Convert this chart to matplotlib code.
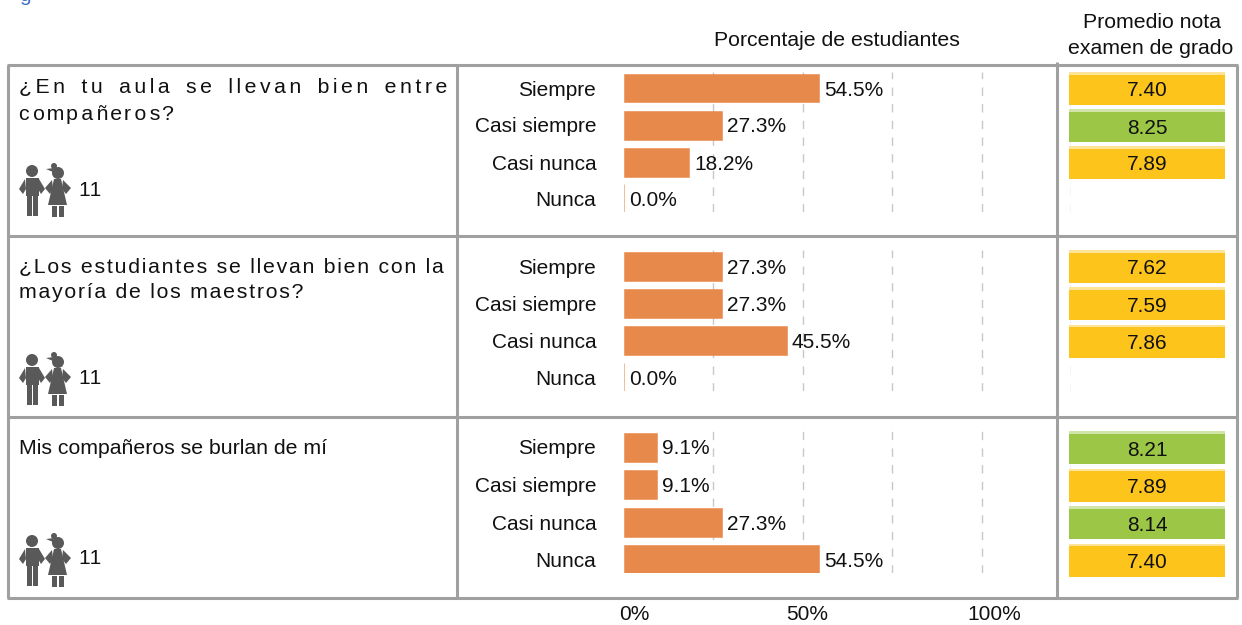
import matplotlib
matplotlib.use("Agg")
import matplotlib.pyplot as plt
from matplotlib.patches import Circle, Polygon, Rectangle

W, H = 1242, 625
FONT = "Liberation Sans"
ORANGE = "#E8894C"
YELLOW = "#FDC41C"
GREEN = "#9BC646"
FRAME = "#A0A0A0"
ICON = "#595959"

answers = ["Siempre", "Casi siempre", "Casi nunca", "Nunca"]
questions = [
    ["¿En tu aula se llevan bien entre", "compañeros?"],
    ["¿Los estudiantes se llevan bien con la", "mayoría de los maestros?"],
    ["Mis compañeros se burlan de mí"],
]
students = [11, 11, 11]
percent_1 = [54.5, 27.3, 18.2, 0.0]
percent_2 = [27.3, 27.3, 45.5, 0.0]
percent_3 = [9.1, 9.1, 27.3, 54.5]
grades_1 = [7.40, 8.25, 7.89, None]
grades_2 = [7.62, 7.59, 7.86, None]
grades_3 = [8.21, 7.89, 8.14, 7.40]
x_ticks = [0, 50, 100]
x_tick_shift = [10, 5, 13]

panel_tops = [88, 266, 447]
row_step = [37.0, 37.3, 37.6]
# hair spaces per letter gap and per word gap, one pair per text line
spacing = [[(2, 2), (1.5, 0)], [(1, 0), (1, 0)], [(0, 0)]]


def spaced(s, n, gap):
    # matplotlib has no letter spacing, so pad with hair spaces
    out = ""
    for i, c in enumerate(s):
        out += c
        if i < len(s) - 1:
            out += "\u200a" * (round((i + 1) * n) - round(i * n))
        if c == " ":
            out += "\u200a" * gap
    return out


def draw_icon(ax, y0):
    # pixel coords, y0 = top of the figures
    parts = [
        Circle((32, y0 + 6), 6),
        Rectangle((25.5, y0 + 13), 13, 18),
        Polygon([(25, y0 + 14), (19, y0 + 24), (23, y0 + 29), (26, y0 + 24)]),
        Polygon([(39, y0 + 14), (45, y0 + 24), (41, y0 + 29), (38, y0 + 24)]),
        Rectangle((26.5, y0 + 31), 5, 20),
        Rectangle((33, y0 + 31), 5, 20),
        Circle((58, y0 + 8), 6),
        Circle((54, y0 + 1), 3),
        Polygon([(46, y0 + 4), (54, y0 + 3), (53, y0 + 7)]),
        Polygon([(54, y0 + 14), (61, y0 + 14), (67, y0 + 40), (48, y0 + 40)]),
        Polygon([(52, y0 + 15), (45, y0 + 23), (50, y0 + 29), (53, y0 + 24)]),
        Polygon([(63, y0 + 15), (71, y0 + 23), (66, y0 + 29), (62, y0 + 24)]),
        Rectangle((52, y0 + 41), 5, 11),
        Rectangle((58.5, y0 + 41), 5, 11),
    ]
    for p in parts:
        p.set_color(ICON)
        p.set_linewidth(0)
        ax.add_patch(p)


def add_panel(fig, center0, step, values):
    # bar axes span 624..1071 px, so 100% lands on 981 px
    top = center0 - 16
    bottom = center0 + 3 * step + 13
    ax = fig.add_axes([624 / W, 1 - bottom / H, (1071 - 624) / W, (bottom - top) / H])
    ax.set_xlim(0, 125)
    ax.set_ylim(3 + 13 / step, -16 / step)
    ax.barh(range(4), values, height=29 / step, color=ORANGE, edgecolor=ORANGE, linewidth=0.4, zorder=2)
    for i, v in enumerate(values):
        ax.annotate("%.1f%%" % v, (v, i), xytext=(5, -2), textcoords="offset pixels",
                    va="center", ha="left", fontsize=15, color="#111111", zorder=3)
    ax.set_xticks([25, 50, 75, 100, 125])
    ax.set_xticklabels([])
    ax.set_yticks(range(4))
    ax.set_yticklabels(answers, fontsize=15, color="#111111")
    ax.tick_params(length=0, axis="both")
    ax.tick_params(axis="y", pad=20)
    ax.grid(axis="x", color="#C8C8C8", linewidth=1, dashes=(6, 6), zorder=0)
    ax.set_axisbelow(True)
    ax.patch.set_alpha(0)
    for s in ax.spines.values():
        s.set_visible(False)
    return ax


plt.rcParams["font.family"] = [FONT, "DejaVu Sans"]
plt.rcParams["text.kerning_factor"] = 6
fig = plt.figure(figsize=(W / 100, H / 100), dpi=100)

all_percent = [percent_1, percent_2, percent_3]
all_grades = [grades_1, grades_2, grades_3]

for i in range(3):
    add_panel(fig, panel_tops[i], row_step[i], all_percent[i])

# pixel overlay for frame, question texts, icons and grade cells
ov = fig.add_axes([0, 0, 1, 1])
ov.set_xlim(0, W)
ov.set_ylim(H, 0)
ov.axis("off")
ov.patch.set_alpha(0)

for y in [65, 236, 417, 598]:
    ov.plot([7, 1238], [y, y], color=FRAME, lw=2.2, solid_capstyle="butt")
for x, y0 in [(8, 65), (457, 65), (1057, 62), (1237, 65)]:
    ov.plot([x, x], [y0, 598], color=FRAME, lw=2.2, solid_capstyle="butt")

ov.text(837, 40, "Porcentaje de estudiantes", ha="center", va="center", fontsize=15.3, color="#111111")
ov.text(1152, 23, "Promedio nota", ha="center", va="center", fontsize=15.3, color="#111111")
ov.text(1151, 49, "examen de grado", ha="center", va="center", fontsize=15.3, color="#111111")
ov.text(19, 1, "g", ha="left", va="baseline", fontsize=15, color="#4472C4", clip_on=True)

question_y = [88, 267, 448]
count_y = [190, 379, 559]
icon_y = [165, 354, 535]
for i, lines in enumerate(questions):
    for j, line in enumerate(lines):
        n, gap = spacing[i][j]
        ov.text(19, question_y[i] + j * 26, spaced(line, n, gap), ha="left", va="center",
                fontsize=15.3, color="#111111")
    draw_icon(ov, icon_y[i])
    ov.text(78, count_y[i], str(students[i]), ha="left", va="center", fontsize=15, color="#111111")

    for k, g in enumerate(all_grades[i]):
        if g is None:
            continue
        cy = panel_tops[i] + 2 + k * row_step[i]
        color = GREEN if g >= 8 else YELLOW
        ov.add_patch(Rectangle((1069, cy - 18), 156, 33, color=color, lw=0))
        ov.add_patch(Rectangle((1069, cy - 18), 156, 2.5, color="white", alpha=0.55, lw=0))
        ov.text(1147, cy + 1, "%.2f" % g, ha="center", va="center", fontsize=15, color="#111111")

for t, shift in zip(x_ticks, x_tick_shift):
    # tick labels sit a little right of their gridlines in the original
    ov.text(624 + t * 3.57 + shift, 615, "%d%%" % t, ha="center", va="center", fontsize=15, color="#111111")

fig.savefig("out.png", dpi=100)
